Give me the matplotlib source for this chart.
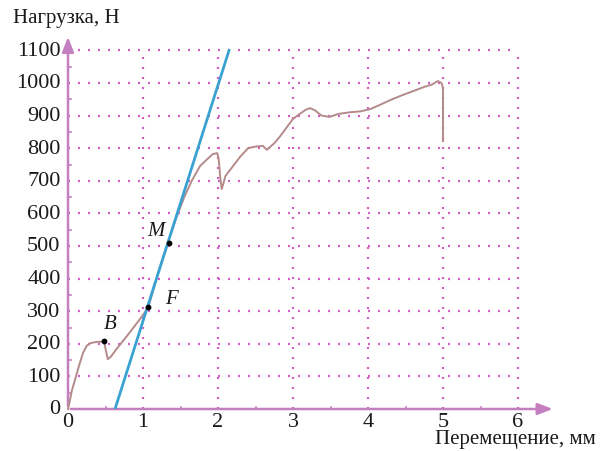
import matplotlib
matplotlib.use("Agg")
import matplotlib.pyplot as plt
import numpy as np

# Data
disp = [0.0, 0.02, 0.05, 0.1, 0.15, 0.2, 0.25, 0.3, 0.38, 0.43, 0.48, 0.5, 0.53, 0.57,
        0.65, 0.8, 0.96, 1.02, 1.07, 1.2, 1.33, 1.45, 1.55, 1.65, 1.76, 1.85, 1.93, 1.99,
        2.01, 2.03, 2.05, 2.07, 2.1, 2.2, 2.3, 2.4, 2.5, 2.6, 2.65, 2.75, 2.83, 2.92, 3.0,
        3.09, 3.17, 3.23, 3.3, 3.38, 3.49, 3.6, 3.75, 3.9, 4.03, 4.15, 4.3, 4.45, 4.6,
        4.75, 4.85, 4.93, 4.98, 5.0, 5.0]
load = [0, 20, 55, 95, 135, 172, 194, 202, 206, 206, 209, 185, 153, 160,
        185, 228, 276, 295, 312, 415, 510, 590, 650, 700, 745, 765, 782, 785,
        765, 710, 675, 690, 715, 745, 775, 800, 805, 807, 795, 815, 837, 865, 890,
        905, 918, 923, 915, 900, 896, 905, 910, 913, 920, 932, 948, 962, 975,
        988, 995, 1006, 1000, 985, 822]
line_x = [0.627, 2.147]
line_y = [0, 1100]
pts_x = [0.48, 1.07, 1.34]
pts_y = [209, 312, 510]
pt_names = ["B", "F", "M"]
xticks = [0, 1, 2, 3, 4, 5, 6]
yticks = [0, 100, 200, 300, 400, 500, 600, 700, 800, 900, 1000, 1100]

W, H = 605, 452
fig = plt.figure(figsize=(W / 100, H / 100), dpi=100)
x0p, y0p = 68, 410
pxx, pxy = 75.0, 0.326
xmax, ymax = 6.5, 1150
ax = fig.add_axes([x0p / W, (H - y0p) / H, xmax * pxx / W, ymax * pxy / H])
ax.set_xlim(0, xmax)
ax.set_ylim(0, ymax)
for s in ax.spines.values():
    s.set_visible(False)
ax.set_xticks([])
ax.set_yticks([])

serif = "Liberation Serif"
gcol = "#d45cc4"
acol = "#c47fc0"
tcol = "#1a1a1a"

# grid
for xv in xticks[1:]:
    ax.plot([xv, xv], [0, 1100], color=gcol, lw=1.6, ls=(0, (0.9, 3.6)), zorder=1)
for yv in yticks[1:]:
    ax.plot([0, 6], [yv, yv], color=gcol, lw=1.6, ls=(0, (0.9, 3.6)), zorder=1)

# axes with arrows
ax.annotate("", xy=(6.5, 0), xytext=(0, 0),
            arrowprops=dict(arrowstyle="-|>,head_length=0.9,head_width=0.35", color=acol, lw=1.8),
            annotation_clip=False, zorder=3)
ax.annotate("", xy=(0, 1150), xytext=(0, 0),
            arrowprops=dict(arrowstyle="-|>,head_length=0.9,head_width=0.35", color=acol, lw=1.8),
            annotation_clip=False, zorder=3)
# minor ticks
for xv in np.arange(0.5, 6.0, 1.0):
    ax.plot([xv, xv], [0, 6], color=acol, lw=1.2, zorder=3)
for yv in np.arange(50, 1100, 100):
    ax.plot([0, 0.04], [yv, yv], color=acol, lw=1.2, zorder=3)

# tick labels
for xv in xticks:
    ax.text(xv, -10, str(xv), ha="center", va="top", fontsize=16, family=serif, color=tcol)
for yv in yticks:
    ax.text(-0.1, yv, str(yv), ha="right", va="center", fontsize=16, family=serif, color=tcol)

ax.plot(disp, load, color="#b48a8a", lw=1.4, zorder=4, clip_on=False)
ax.plot(line_x, line_y, color="#3aa2d2", lw=2.0, zorder=5)
ax.scatter(pts_x, pts_y, s=10, color="black", zorder=6)
lbl_pos = {"B": (0.56, 262), "F": (1.38, 338), "M": (1.17, 548)}
for n in pt_names:
    ax.text(*lbl_pos[n], n, fontsize=15, family=serif, style="italic", ha="center", va="center", color=tcol)

fig.text(13 / W, 1 - 18 / H, "Нагрузка, Н", fontsize=15, family=serif, ha="left", va="center", color=tcol)
fig.text(596 / W, 1 - 440 / H, "Перемещение, мм", fontsize=15, family=serif, ha="right", va="center", color=tcol)

fig.savefig("out.png", dpi=100, facecolor="white")
